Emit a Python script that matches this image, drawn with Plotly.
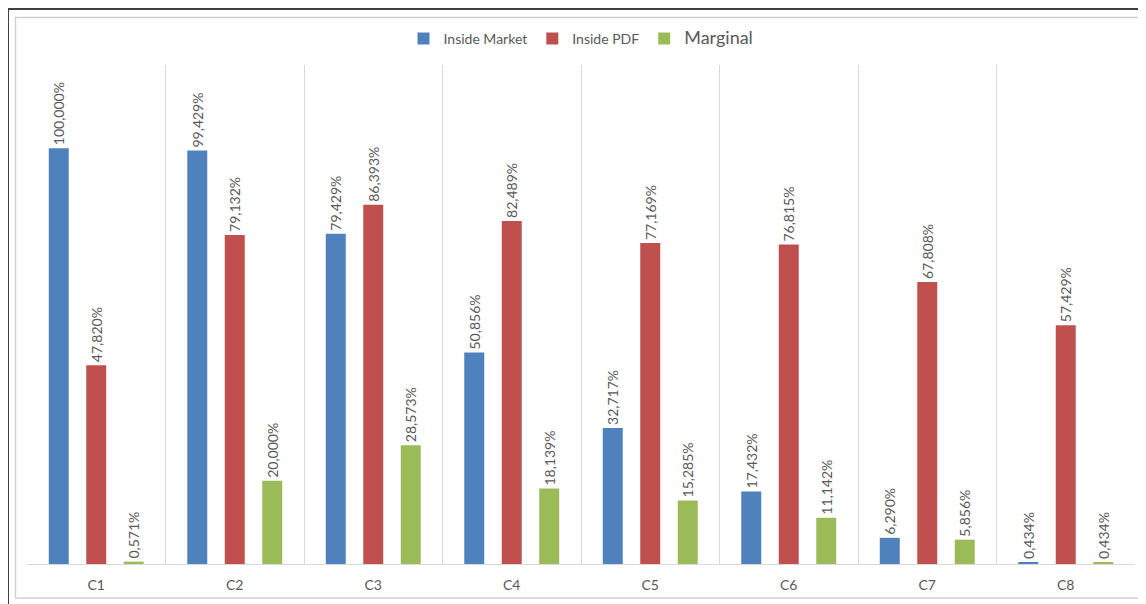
import plotly.graph_objects as go

categories = ["C1", "C2", "C3", "C4", "C5", "C6", "C7", "C8"]
inside_market = [100.000, 99.429, 79.429, 50.856, 32.717, 17.432, 6.290, 0.434]
inside_pdf = [47.820, 79.132, 86.393, 82.489, 77.169, 76.815, 67.808, 57.429]
marginal = [0.571, 20.000, 28.573, 18.139, 15.285, 11.142, 5.856, 0.434]

series = [
    ("Inside Market", inside_market, "#4F81BD"),
    ("Inside PDF", inside_pdf, "#C0504D"),
    ("<span style='font-size:18px'>Marginal</span>", marginal, "#9BBB59"),
]

# page is offset by the 8px body margin
OFF = 8
W, H = 1146 - OFF, 604 - OFF
L, R, T, B = 27 - OFF, 1146 - 1135, 65 - OFF, 604 - 564
pw, ph = W - L - R, H - T - B

def px_x(x):  # page pixel -> paper
    return (x - OFF - L) / pw

def px_y(y):
    return (H - B - (y - OFF)) / ph

fig = go.Figure()
for name, vals, col in series:
    fig.add_trace(go.Bar(
        x=categories, y=vals, name=name,
        marker=dict(color=col, line=dict(width=0)),
        texttemplate="%{y:.3f}%",
        textposition="outside",
        textangle=-90,
        constraintext="none",
        cliponaxis=False,
        textfont=dict(family="Lato, sans-serif", size=14, color="#595959"),
    ))

fig.update_layout(
    width=W, height=H,
    margin=dict(l=L, r=R, t=T, b=B),
    barmode="group",
    bargap=0.188,
    bargroupgap=0.467,
    separators=",.",
    paper_bgcolor="white",
    plot_bgcolor="white",
    font=dict(family="Lato, sans-serif", color="#595959"),
    showlegend=True,
    legend=dict(
        orientation="h", x=0.5, xanchor="center", y=px_y(39), yanchor="middle",
        font=dict(size=14, color="#595959"), itemwidth=30, traceorder="normal",
    ),
    xaxis=dict(
        range=[-0.5, 7.5],
        tickson="boundaries",
        showgrid=True, gridcolor="#D9D9D9", gridwidth=1,
        ticks="", showline=True, linecolor="#D9D9D9", linewidth=1,
        tickfont=dict(size=14, color="#595959"),
        ticklabelstandoff=8,
        fixedrange=True,
    ),
    yaxis=dict(
        range=[0, 120], showgrid=False, showticklabels=False,
        zeroline=False, showline=False, ticks="",
    ),
    shapes=[
        dict(type="rect", xref="paper", yref="paper",
             x0=px_x(8), x1=px_x(1170), y0=px_y(630), y1=px_y(9),
             line=dict(color="#404040", width=2), fillcolor="rgba(0,0,0,0)", layer="below"),
        dict(type="rect", xref="paper", yref="paper",
             x0=px_x(15.5), x1=px_x(1170), y0=px_y(598), y1=px_y(17.5),
             line=dict(color="#D0D0D0", width=1.5), fillcolor="rgba(0,0,0,0)", layer="below"),
    ],
)

fig.write_html("out.html")
